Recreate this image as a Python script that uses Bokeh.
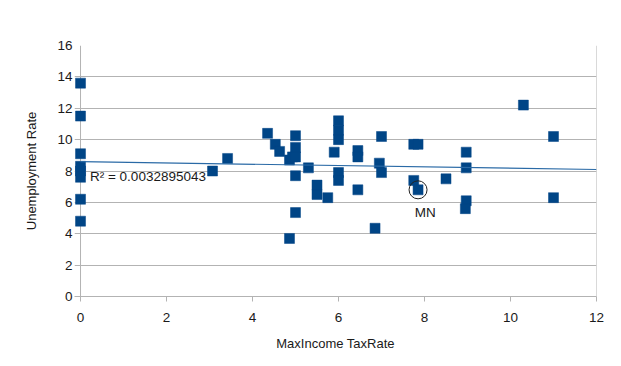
from bokeh.plotting import figure
from bokeh.models import ColumnDataSource, Range1d, FixedTicker, Label, Span
from bokeh.embed import file_html
from bokeh.resources import INLINE

# --- data ---
tax_rate = [0, 0, 0, 0, 0, 0, 0, 0,
            3.07, 3.42, 4.35, 4.53, 4.63, 4.86, 4.93, 5.0, 5.0, 5.0, 5.0, 5.0,
            4.86, 5.3, 5.5, 5.5, 5.75, 6.0, 6.0, 6.0, 5.9, 6.0, 6.0,
            6.45, 6.45, 6.45, 6.85, 7.0, 6.95, 7.0, 7.75, 7.85, 7.75, 7.85,
            8.5, 8.97, 8.97, 8.97, 8.95, 10.3, 11.0, 11.0]
unemployment = [13.6, 11.5, 9.1, 8.3, 8.0, 7.6, 6.2, 4.8,
                8.0, 8.8, 10.4, 9.7, 9.25, 8.7, 8.9, 10.25, 9.5, 8.9, 7.7, 5.35,
                3.7, 8.2, 7.1, 6.5, 6.3, 11.2, 10.6, 10.0, 9.2, 7.9, 7.4,
                9.3, 8.9, 6.8, 4.35, 10.2, 8.5, 7.9, 9.7, 9.7, 7.4, 6.8,
                7.5, 9.2, 8.2, 6.1, 5.6, 12.2, 10.2, 6.3]
trend_intercept = 8.6
trend_slope = -0.042
r2_text = "R\u00b2 = 0.0032895043"
highlight_label = "MN"
highlight_x = 7.85
highlight_y = 6.8
x_ticks = [0, 2, 4, 6, 8, 10, 12]
y_ticks = [0, 2, 4, 6, 8, 10, 12, 14, 16]

GRID = "#b3b3b3"
BLUE = "#004586"
FONT = "Liberation Sans"
TXT = "#1a1a1a"

# x range starts slightly left of 0 so the squares at x = 0 are not clipped
p = figure(width=605, height=350, output_backend="svg", toolbar_location=None,
           x_range=Range1d(-0.14, 12), y_range=Range1d(0, 16),
           min_border_left=74, min_border_right=9, min_border_top=45,
           min_border_bottom=54, frame_width=522, frame_height=251)
p.background_fill_color = "white"
p.border_fill_color = "white"
p.outline_line_color = None

p.xgrid.visible = False
p.ygrid.grid_line_color = GRID
p.ygrid.ticker = FixedTicker(ticks=y_ticks)

for ax in (p.xaxis[0], p.yaxis[0]):
    ax.axis_line_color = GRID
    ax.major_tick_line_color = GRID
    ax.minor_tick_line_color = None
    ax.major_label_text_font = FONT
    ax.major_label_text_font_size = "13.5px"
    ax.major_label_text_color = TXT
    ax.axis_label_text_font = FONT
    ax.axis_label_text_font_size = "13px"
    ax.axis_label_text_font_style = "normal"
    ax.axis_label_text_color = TXT

p.xaxis.major_tick_out = 5
p.xaxis.major_tick_in = 0
p.yaxis.axis_line_color = None
p.yaxis.major_tick_line_color = None
p.yaxis.major_tick_out = 0
p.yaxis.major_tick_in = 0

p.xaxis.ticker = FixedTicker(ticks=x_ticks)
p.yaxis.ticker = FixedTicker(ticks=y_ticks)
p.xaxis.axis_label = "MaxIncome TaxRate"
p.yaxis.axis_label = "Unemployment Rate"
p.xaxis.major_label_standoff = 11
p.yaxis.major_label_standoff = 2
p.xaxis.axis_label_standoff = 11
p.yaxis.axis_label_standoff = 15

# frame edges: left axis at x = 0, right edge at x = 12 (drawn beneath the marks)
p.add_layout(Span(location=x_ticks[0], dimension="height", line_color=GRID,
                  line_width=1, level="underlay"))
p.add_layout(Span(location=x_ticks[-1], dimension="height", line_color=GRID,
                  line_width=1, level="underlay"))

src = ColumnDataSource(dict(x=tax_rate, y=unemployment))
p.scatter("x", "y", source=src, marker="square", size=10,
          fill_color=BLUE, line_color=BLUE, line_width=0.5)

tx = [x_ticks[0], x_ticks[-1]]
ty = [trend_intercept + trend_slope * v for v in tx]
p.line(tx, ty, line_color="#2a6aa6", line_width=1.2)

p.add_layout(Label(x=0.22, y=7.65, text=r2_text, text_font=FONT,
                   text_font_size="13.5px", text_color=TXT,
                   text_baseline="middle", text_align="left"))

p.scatter([highlight_x], [highlight_y], marker="circle", size=18,
          fill_color=None, line_color="#222222", line_width=1)
p.add_layout(Label(x=8.02, y=5.35, text=highlight_label, text_font=FONT,
                   text_font_size="13.5px", text_color=TXT,
                   text_baseline="middle", text_align="center"))

open("out.html", "w").write(file_html(p, INLINE))
